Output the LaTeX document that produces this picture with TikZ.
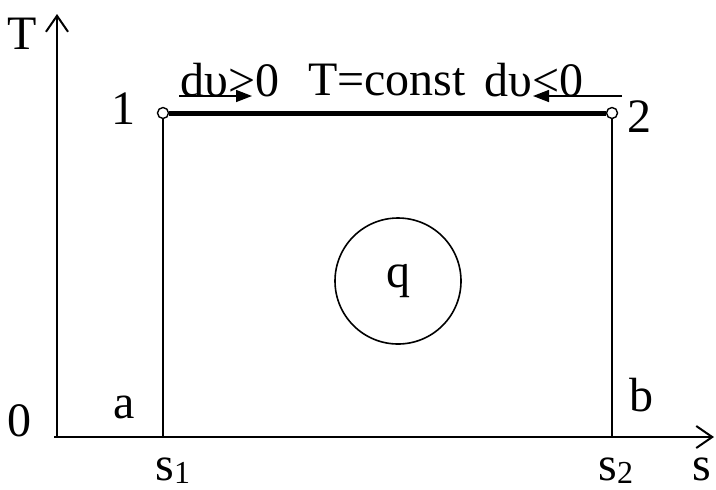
\documentclass[tikz,border=0pt]{standalone}
\usepackage{fontspec}
\setmainfont{Liberation Serif}
\usetikzlibrary{arrows.meta, positioning}
\newcommand{\lowidx}[1]{\raisebox{-1.5pt}{\fontsize{16}{18}\selectfont #1}}
\tikzset{
  lbl/.style={font=\fontsize{24}{28}\selectfont, inner sep=0pt},
  axis/.style={line width=1pt,
    -{Straight Barb[length=8pt, width=11pt, line width=1pt]}},
  state/.style={circle, draw, fill=white, line width=0.7pt,
    inner sep=0pt, minimum size=5.5pt},
  wall/.style={line width=0.7pt},
  iso/.style={line width=2.5pt},
  dir/.style={line width=0.7pt, -{Triangle[length=8pt, width=6pt]}},
  heat/.style={circle, draw, line width=0.8pt, minimum size=63pt,
    font=\fontsize{24}{28}\selectfont},
}

\begin{document}
\begin{tikzpicture}[x=0.5pt, y=-0.5pt]
\useasboundingbox (0,0) rectangle (716,489);

% Axes
\coordinate (O)    at (57,437);
\coordinate (xo)   at (54,437);
\coordinate (Ttop) at (57,14);
\coordinate (send) at (714,437);
\draw[axis] (O) -- (Ttop);
\draw[axis] (xo) -- (send);

% States 1 and 2
\node (p1) [state] at (163,113) {};
\node (p2) [state] at (612,113) {};
\coordinate (s1) at (163,437);
\coordinate (s2) at (612,437);

\draw[wall] (s1) -- (p1);
\draw[wall] (s2) -- (p2);
\draw[iso]  (p1) -- (p2);

% Heat
\node (q) [heat] at (398,281) {q};

% Labels
\node (lT)  [lbl] at (22,34)   {T};
\node (l1)  [lbl] at (123,109) {1};
\node (l2)  [lbl] at (639,117) {2};
\node (l0)  [lbl] at (20,421)  {0};
\node (la)  [lbl] at (124,407) {a};
\node (lb)  [lbl] at (641,395) {b};
\node (ls1) [lbl, anchor=base west] at (155,480) {s\lowidx{1}};
\node (ls2) [lbl, anchor=base west] at (598,480) {s\lowidx{2}};
\node (ls)  [lbl, anchor=base west] at (692,480) {s};

% Isotherm text
\node (dvp)  [lbl] at (230,80) {dυ>0};
\node (Tc)   [lbl] at (387,80) {T=const};
\node (dvm)  [lbl] at (534,80) {dυ<0};

\coordinate (ap0) at (179,96);
\coordinate (ap1) at (252,96);
\coordinate (am0) at (622,96);
\coordinate (am1) at (533,96);
\draw[dir] (ap0) -- (ap1);
\draw[dir] (am0) -- (am1);

\end{tikzpicture}
\end{document}
